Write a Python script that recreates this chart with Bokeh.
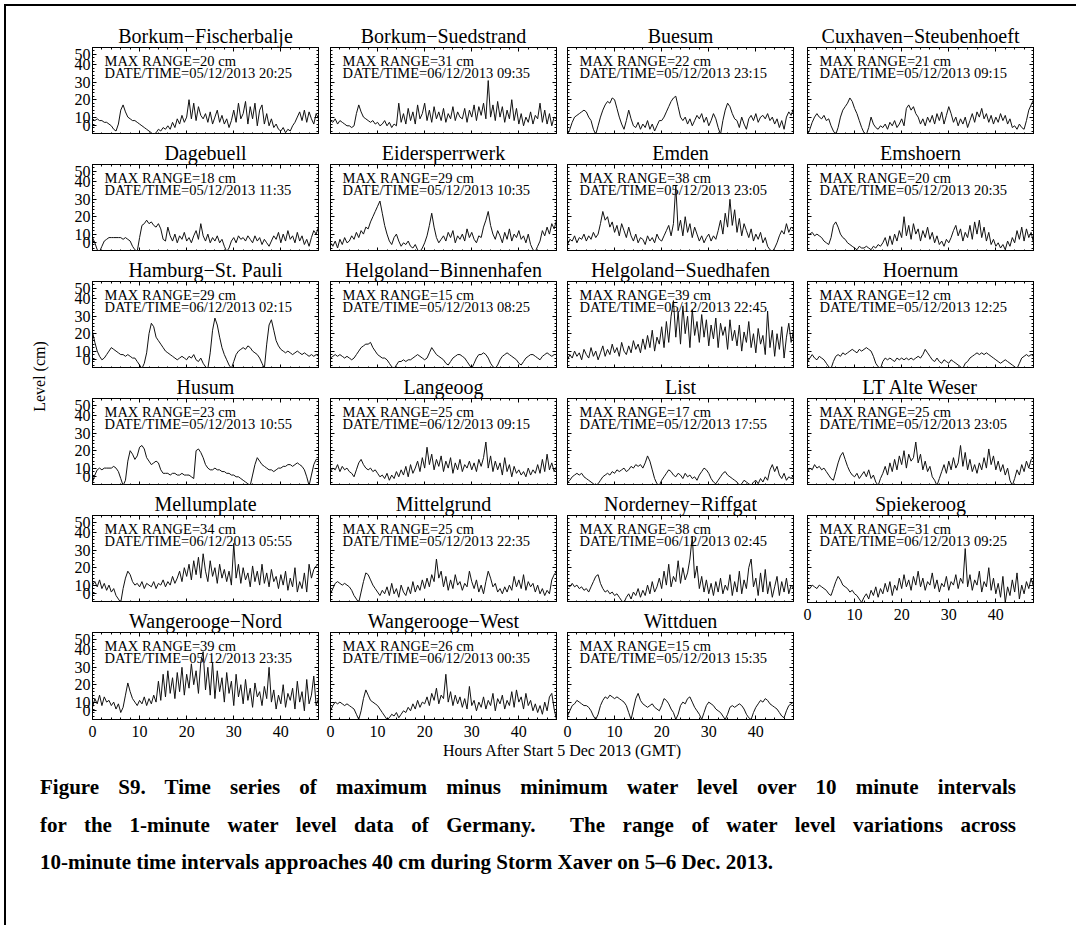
from bokeh.plotting import figure
from bokeh.models import (Label, LinearAxis, SingleIntervalTicker, FixedTicker, Range1d, Spacer, Div,
                          CustomLabelingPolicy)
from bokeh.layouts import column, row
from bokeh.embed import file_html
from bokeh.resources import INLINE

# ---------------- data (30-minute samples, 0..48 h after 5 Dec 2013 00:00 GMT) ----------------
hours = [i * 0.5 for i in range(97)]

stations = ["Borkum\u2212Fischerbalje", "Borkum\u2212Suedstrand", "Buesum", "Cuxhaven\u2212Steubenhoeft",
            "Dagebuell", "Eidersperrwerk", "Emden", "Emshoern",
            "Hamburg\u2212St. Pauli", "Helgoland\u2212Binnenhafen", "Helgoland\u2212Suedhafen", "Hoernum",
            "Husum", "Langeoog", "List", "LT Alte Weser",
            "Mellumplate", "Mittelgrund", "Norderney\u2212Riffgat", "Spiekeroog",
            "Wangerooge\u2212Nord", "Wangerooge\u2212West", "Wittduen"]

max_range = [20, 31, 22, 21, 18, 29, 38, 20, 29, 15, 39, 12,
             23, 25, 17, 25, 34, 25, 38, 31, 39, 26, 15]

date_time = ["05/12/2013 20:25", "06/12/2013 09:35", "05/12/2013 23:15", "05/12/2013 09:15",
             "05/12/2013 11:35", "05/12/2013 10:35", "05/12/2013 23:05", "05/12/2013 20:35",
             "06/12/2013 02:15", "05/12/2013 08:25", "05/12/2013 22:45", "05/12/2013 12:25",
             "05/12/2013 10:55", "06/12/2013 09:15", "05/12/2013 17:55", "05/12/2013 23:05",
             "06/12/2013 05:55", "05/12/2013 22:35", "06/12/2013 02:45", "06/12/2013 09:25",
             "05/12/2013 23:35", "06/12/2013 00:35", "05/12/2013 15:35"]

borkum_fischerbalje = [9,8,9,8,8,7,7,6, 5,3,2,6,14,17,13,10, 9,8,8,7,6,5,4,3, 2,1,0,1,3,2,4,3,
                       5,3,7,4,9,6,11,7, 10,20,9,18,8,16,11,9, 12,7,13,6,10,14,7,11, 6,9,4,8,14,7,18,9,
                       12,19,6,16,9,18,5,14, 17,6,12,5,9,4,6,3, 2,4,1,3,2,5,7,10, 13,8,14,7,13,9,6,12, 9]
borkum_suedstrand = [8,7,9,6,8,7,6,5, 5,4,5,12,17,13,10,9, 8,7,8,6,7,5,6,8, 5,7,4,6,5,18,7,12,
                     6,15,8,13,6,17,9,12, 18,8,14,7,16,9,13,8, 15,7,12,9,16,8,13,10, 9,15,7,14,10,17,8,16,
                     11,18,9,31,10,17,8,19, 10,16,7,14,9,20,8,15, 6,12,5,10,7,13,6,11, 9,18,7,14,6,12,5,10, 9]
buesum = [0,3,7,10,11,12,13,14, 13,10,8,3,0,5,10,14, 17,19,18,21,20,15,10,6, 3,8,14,9,5,4,7,3,
          6,4,8,3,6,2,5,8, 8,10,13,16,19,21,22,16, 10,8,10,6,9,5,8,11, 9,12,7,10,5,8,12,9,
          4,0,8,14,18,16,12,9, 8,4,10,6,3,9,11,8, 12,7,10,11,9,12,8,10, 6,9,4,8,3,10,13,11, 15]
cuxhaven_steubenhoeft = [0,3,7,10,12,10,9,11, 8,9,5,2,0,4,10,14, 16,18,21,19,15,12,8,4, 1,0,4,10,6,4,3,5,
                         4,6,3,7,5,8,4,6, 9,5,15,17,14,16,12,10, 6,9,5,10,7,11,6,12, 8,13,6,11,16,12,7,10,
                         5,9,6,10,4,8,12,7, 13,10,15,9,12,7,11,6, 10,7,12,8,11,6,9,4, 5,3,6,4,3,8,14,17, 20]
dagebuell = [8,5,1,0,3,6,7,8, 8,8,8,8,8,7,8,7, 6,3,1,0,8,15,16,18, 16,17,15,14,16,13,7,6,
             14,9,6,10,5,9,7,11, 6,8,5,9,12,7,16,9, 6,10,5,8,6,9,5,7, 3,0,2,6,8,5,9,7,
             8,6,9,7,5,9,6,8, 4,7,5,3,6,9,7,11, 5,10,6,12,7,9,5,11, 6,9,4,7,3,8,12,10, 14]
eidersperrwerk = [5,3,6,2,7,4,8,5, 6,9,7,11,8,12,10,14, 13,17,20,23,26,29,22,15, 10,6,4,8,10,6,3,5,
                  4,6,3,2,4,1,0,2, 5,9,15,22,14,8,5,7, 9,6,11,8,12,5,9,7, 10,6,13,8,11,7,5,9,
                  8,14,18,23,15,10,7,12, 9,5,11,7,13,6,10,8, 12,7,9,5,10,4,1,0, 3,6,12,9,14,10,16,13, 18]
emden = [4,7,6,9,5,8,7,10, 6,9,7,11,8,10,16,23, 18,20,14,17,11,15,9,16, 12,8,14,9,6,10,5,8,
         7,4,9,6,8,5,10,7, 6,9,12,15,9,16,38,12, 18,9,20,11,16,8,14,10, 6,9,5,8,10,6,9,7,
         12,18,10,22,14,30,15,24, 11,19,9,16,12,8,13,6, 10,7,11,5,8,3,1,0, 2,5,9,12,10,16,11,14, 13]
emshoern = [10,10,11,9,10,9,8,6, 5,4,8,15,17,14,10,8, 7,5,4,3,2,1,3,2, 2,3,2,1,3,2,4,3,
            5,8,3,9,4,10,6,12, 8,20,9,15,7,16,10,13, 6,12,8,14,7,11,5,9, 4,6,3,7,5,8,12,15,
            9,13,6,11,8,15,7,17, 10,18,8,14,6,11,4,7, 3,5,2,4,1,6,3,8, 5,12,7,14,6,13,8,11, 5]
hamburg_st_pauli = [21,15,10,7,5,6,8,10, 12,11,10,9,8,8,7,8, 7,6,6,4,2,0,3,9, 20,26,24,18,16,14,12,10,
                    9,8,7,6,5,6,7,6, 5,7,6,8,5,4,6,3, 1,0,9,22,29,25,18,12, 8,5,2,0,4,8,10,11,
                    12,11,13,12,10,9,8,6, 3,0,14,25,28,22,16,13, 11,10,9,10,9,8,9,10, 9,8,9,8,7,8,7,8, 7]
helgoland_binnenhafen = [6,7,8,7,8,7,6,7, 6,5,6,8,10,12,13,14, 14,15,12,10,8,7,6,6, 5,3,1,0,2,4,4,5,
                         4,5,5,6,7,8,7,6, 5,6,9,12,10,8,7,6, 5,3,2,4,6,7,8,8, 7,6,4,2,0,3,6,8,
                         8,9,8,6,3,1,0,2, 5,7,8,9,8,7,6,5, 3,2,4,6,7,8,8,7, 6,5,7,8,9,8,7,8, 8]
helgoland_suedhafen = [5,8,6,10,7,9,5,11, 8,6,12,7,10,5,9,13, 7,11,8,14,9,12,7,15, 10,8,13,9,16,11,14,9,
                       17,11,19,12,22,10,18,14, 24,12,27,15,30,39,18,33, 14,36,20,30,12,34,19,27, 15,31,18,28,13,25,17,29,
                       12,26,19,24,11,28,16,22, 13,25,10,21,15,27,12,20, 9,23,14,19,8,33,12,22, 7,20,11,24,6,18,26,15, 22]
hoernum = [4,6,8,6,5,7,6,5, 3,1,0,4,7,8,7,9, 8,9,10,11,10,9,11,10, 11,12,11,10,7,3,1,0,
           4,6,5,6,5,4,6,5, 6,5,6,5,6,5,6,7, 6,8,11,9,7,5,4,6, 4,3,5,4,3,5,4,3,
           2,1,0,3,4,6,7,8, 9,8,9,8,9,8,7,6, 5,4,3,4,5,4,3,2, 1,0,3,6,7,8,7,8, 7]
husum = [2,6,9,10,9,10,10,10, 10,11,10,8,4,0,3,14, 20,18,15,17,22,23,21,16, 14,12,13,14,13,9,7,7,
         7,6,7,7,6,6,7,6, 6,6,5,4,20,21,19,16, 12,10,9,9,10,9,9,8, 8,7,7,6,6,5,5,4,
         3,2,1,0,6,12,16,14, 12,11,10,9,9,8,9,10, 10,11,11,12,12,11,12,13, 12,11,9,5,0,6,12,15, 15]
langeoog = [8,10,9,12,8,11,9,10, 8,7,5,9,13,15,12,10, 9,10,8,9,7,5,6,4, 7,3,6,4,8,5,9,6,
            11,5,12,7,10,14,8,16, 10,22,12,18,9,15,11,17, 8,14,10,16,7,13,9,15, 8,12,10,14,9,13,8,15,
            11,16,25,10,17,8,14,9, 13,6,16,8,12,5,11,7, 9,6,8,5,10,6,9,7, 12,7,15,8,18,9,13,8, 11]
list_station = [2,3,5,6,7,6,7,5, 4,3,2,1,0,1,3,5, 6,7,6,8,7,9,8,9, 10,8,9,11,10,12,11,12,
                10,13,17,14,9,4,1,0, 3,5,7,9,8,6,5,7, 6,4,7,5,6,4,5,3, 6,8,10,9,7,4,2,1,
                3,5,7,8,6,5,4,3, 2,0,1,3,2,1,0,2, 3,1,4,2,5,3,9,12, 8,11,6,4,7,3,5,4, 6]
lt_alte_weser = [8,10,9,12,10,11,9,10, 8,6,4,3,8,13,17,19, 15,11,8,6,5,7,4,6, 8,5,9,4,6,2,0,4,
                 7,11,6,13,8,15,9,17, 12,20,10,18,14,16,25,13, 18,9,14,8,11,5,3,0, 4,8,12,7,14,9,16,10,
                 13,23,11,19,9,15,8,12, 7,13,9,16,10,21,12,17, 9,14,8,12,6,10,3,0, 4,9,6,12,8,14,10,15, 16]
mellumplate = [10,12,9,13,8,11,7,10, 6,8,4,2,0,8,14,18, 16,12,10,11,9,12,8,11, 10,9,12,8,11,10,13,9,
               12,10,15,11,14,18,12,20, 15,22,13,24,16,26,14,28, 18,12,24,15,20,11,22,14, 19,12,18,10,34,14,22,11,
               20,13,17,9,21,12,18,10, 22,11,17,9,19,12,15,8, 16,10,18,7,14,9,20,6, 12,8,17,6,22,14,19,21, 22]
mittelgrund = [5,8,11,12,11,10,11,10, 9,7,4,2,0,6,12,17, 16,13,10,8,6,4,7,5, 9,4,11,5,8,3,10,6,
               4,9,5,12,6,10,7,13, 8,14,9,16,12,25,14,18, 9,15,7,13,8,16,10,12, 7,11,9,18,12,8,13,6,
               10,5,12,18,14,9,11,6, 8,5,9,6,10,7,15,9, 13,8,16,7,12,9,11,6, 10,5,8,4,7,5,13,16, 18]
norderney_riffgat = [10,9,11,9,10,8,9,7, 8,6,9,12,15,16,11,8, 6,7,5,6,4,5,3,1, 0,3,5,2,6,4,8,3,
                     7,4,10,5,12,6,9,14, 8,18,10,22,9,15,12,24, 11,20,13,17,25,38,14,21, 8,15,6,13,5,11,4,12,
                     6,14,5,10,7,16,4,12, 6,18,5,13,8,20,25,9, 14,4,17,6,19,5,12,3, 9,15,4,12,6,14,5,10, 8]
spiekeroog = [9,8,10,9,8,10,9,8, 7,5,4,8,12,15,13,10, 9,8,6,7,5,4,2,0, 3,5,2,7,4,9,3,8,
              5,11,6,12,4,10,7,14, 8,16,9,13,7,15,10,18, 9,14,7,12,10,17,8,13, 6,11,9,15,7,12,10,16,
              8,14,11,31,9,16,7,13, 10,18,6,12,9,20,7,14, 5,11,3,15,0,9,4,13, 6,17,2,10,5,12,8,14, 9]
wangerooge_nord = [7,12,9,14,8,13,10,11, 8,10,6,9,4,7,14,21, 16,12,10,8,11,9,13,8, 12,9,14,10,22,11,26,13,
                   28,15,24,12,27,16,30,14, 26,18,32,20,28,15,33,39, 17,30,14,33,12,28,16,24, 10,27,15,22,8,26,13,20,
                   9,23,11,18,7,21,13,16, 8,19,12,30,10,17,6,14, 9,20,7,15,11,18,6,22, 10,16,5,23,9,14,25,8, 12]
wangerooge_west = [5,8,10,9,10,9,8,9, 8,7,6,3,0,5,12,17, 14,11,10,9,8,6,4,2, 0,1,3,2,4,1,3,5,
                   4,7,5,9,6,11,7,10, 9,13,8,15,11,18,9,14, 12,26,10,16,8,14,9,13, 7,12,6,19,8,11,5,10,
                   7,13,6,11,8,15,5,12, 9,14,6,11,8,16,7,17, 10,13,6,15,8,11,5,9, 4,8,3,10,5,13,15,6, 0]
wittduen = [2,5,8,9,11,10,9,8, 8,7,5,2,0,3,8,11, 13,12,14,13,12,13,12,11, 10,8,4,0,6,12,15,11,
            9,8,7,8,9,7,6,5, 8,12,11,9,6,4,0,3, 8,10,9,12,13,10,7,5, 3,0,4,8,10,9,8,6,
            5,4,2,0,3,7,8,7, 8,9,8,6,3,1,0,4, 7,9,11,10,12,11,9,8, 7,6,4,2,1,5,8,9, 10]

series = [borkum_fischerbalje, borkum_suedstrand, buesum, cuxhaven_steubenhoeft,
          dagebuell, eidersperrwerk, emden, emshoern,
          hamburg_st_pauli, helgoland_binnenhafen, helgoland_suedhafen, hoernum,
          husum, langeoog, list_station, lt_alte_weser,
          mellumplate, mittelgrund, norderney_riffgat, spiekeroog,
          wangerooge_nord, wangerooge_west, wittduen]

# y tick labels as the reference prints them (end labels pulled inside the box)
y_tick_values = [5.4, 10, 20, 30, 40, 45.8]
y_tick_labels = ["0", "10", "20", "30", "40", "50"]

x_label_text = "Hours After Start 5 Dec 2013 (GMT)"
y_label_text = "Level (cm)"
caption_lines = [
    "Figure S9. Time series of maximum minus minimum water level over 10 minute intervals",
    "for the 1-minute water level data of Germany.&nbsp; The range of water level variations across",
    "10-minute time intervals approaches 40 cm during Storm Xaver on 5\u20136 Dec. 2013.",
]

# ---------------- styling ----------------
SERIF = "Liberation Serif"
FRAME_W, FRAME_H = 226, 87
LEFT_B = [40, 6, 6, 7]
RIGHT_B = [6, 5, 7, 7]
N = len(stations)
bottom_panels = {N - 4, N - 3, N - 2, N - 1}

HIDE_JS = ("const ks = Array.from(indices);"
           "for (const k of ks) { if (indices.unset) { indices.unset(k) } else { indices.set(k, false) } }"
           "return indices")


def style_axis(ax, show_labels, standoff):
    ax.axis_line_color = "black"
    ax.axis_line_width = 1
    ax.major_tick_in = 4
    ax.major_tick_out = 0
    ax.minor_tick_in = 2
    ax.minor_tick_out = 0
    ax.major_tick_line_color = "black"
    ax.minor_tick_line_color = "black"
    if show_labels:
        ax.major_label_text_font = SERIF
        ax.major_label_text_font_size = "16px"
        ax.major_label_text_color = "black"
        ax.major_label_standoff = standoff
    else:
        ax.major_label_policy = CustomLabelingPolicy(code=HIDE_JS)
        ax.major_label_text_font_size = "0px"
        ax.major_label_standoff = 0


def make_panel(i):
    c = i % 4
    is_bottom = i in bottom_panels
    p = figure(frame_width=FRAME_W, frame_height=FRAME_H,
               x_range=Range1d(0, 48), y_range=Range1d(0, 50),
               x_axis_type=None, y_axis_type=None,
               toolbar_location=None, output_backend="svg",
               min_border_left=LEFT_B[c], min_border_right=RIGHT_B[c],
               min_border_top=30, min_border_bottom=22 if is_bottom else 0,
               title=stations[i])
    p.title.align = "center"
    p.title.text_font = SERIF
    p.title.text_font_size = "20px"
    p.title.text_font_style = "normal"
    p.title.text_color = "black"
    p.title.standoff = 1
    p.outline_line_color = "black"
    p.background_fill_color = "white"
    p.border_fill_color = "white"

    for side in ("below", "above", "left", "right"):
        if side == "left" and c == 0:
            ticker = FixedTicker(ticks=y_tick_values, minor_ticks=list(range(2, 50, 2)))
        else:
            ticker = SingleIntervalTicker(interval=10, num_minor_ticks=5)
        ax = LinearAxis(ticker=ticker)
        if side == "below":
            style_axis(ax, is_bottom, 6)
        elif side == "left":
            style_axis(ax, c == 0, 2)
            if c == 0:
                ax.major_label_overrides = {v: t for v, t in zip(y_tick_values, y_tick_labels)}
                ax.major_label_text_font_size = "16px"
        else:
            style_axis(ax, False, 0)
        p.add_layout(ax, side)

    p.line(hours, series[i], line_color="#111111", line_width=1)

    p.add_layout(Label(x=2.55, y=42.0, text="MAX RANGE=%d cm" % max_range[i],
                       text_font=SERIF, text_font_size="14.5px", text_color="black",
                       text_baseline="alphabetic"))
    p.add_layout(Label(x=2.55, y=35.1, text="DATE/TIME=" + date_time[i],
                       text_font=SERIF, text_font_size="14.5px", text_color="black",
                       text_baseline="alphabetic"))
    return p


panels = [make_panel(i) for i in range(N)]

cols = []
for c in range(4):
    figs = [panels[i] for i in range(N) if i % 4 == c]
    cols.append(column(Spacer(height=11, width=10), *figs, spacing=0))

# left strip with the shared y-axis title
strip = figure(width=46, height=735, x_range=Range1d(0, 46), y_range=Range1d(0, 735),
               x_axis_type=None, y_axis_type=None, toolbar_location=None,
               output_backend="svg", min_border=0)
strip.outline_line_color = None
strip.add_layout(Label(x=33, y=365, text=y_label_text, angle=90, angle_units="deg",
                       text_align="center", text_baseline="middle",
                       text_font=SERIF, text_font_size="16px", text_color="black"))

body = row(strip, *cols, spacing=0)

# shared x-axis title
xlab = figure(width=1070, height=18, x_range=Range1d(0, 1070), y_range=Range1d(0, 18),
              x_axis_type=None, y_axis_type=None, toolbar_location=None,
              output_backend="svg", min_border=0)
xlab.outline_line_color = None
xlab.add_layout(Label(x=556, y=9, text=x_label_text, text_align="center", text_baseline="middle",
                      text_font=SERIF, text_font_size="16px", text_color="black"))

line_style = ("font-family:'Liberation Serif',serif;font-weight:bold;font-size:21px;"
              "line-height:37.5px;color:#000;")
cap_html = '<div style="padding-left:29px;padding-top:5px;width:1005px;%s">' % line_style
for k, ln in enumerate(caption_lines):
    if k < len(caption_lines) - 1:
        cap_html += '<div style="text-align:justify;text-align-last:justify;">%s</div>' % ln
    else:
        cap_html += '<div style="text-align:left;">%s</div>' % ln
cap_html += '</div>'
caption = Div(text=cap_html, width=1070, height=164)

root = column(body, xlab, caption, spacing=0, margin=(4, 0, 0, 4),
              styles={"border-top": "2px solid black", "border-left": "2px solid black"})

open("out.html", "w").write(file_html(root, INLINE, title="Figure S9"))
